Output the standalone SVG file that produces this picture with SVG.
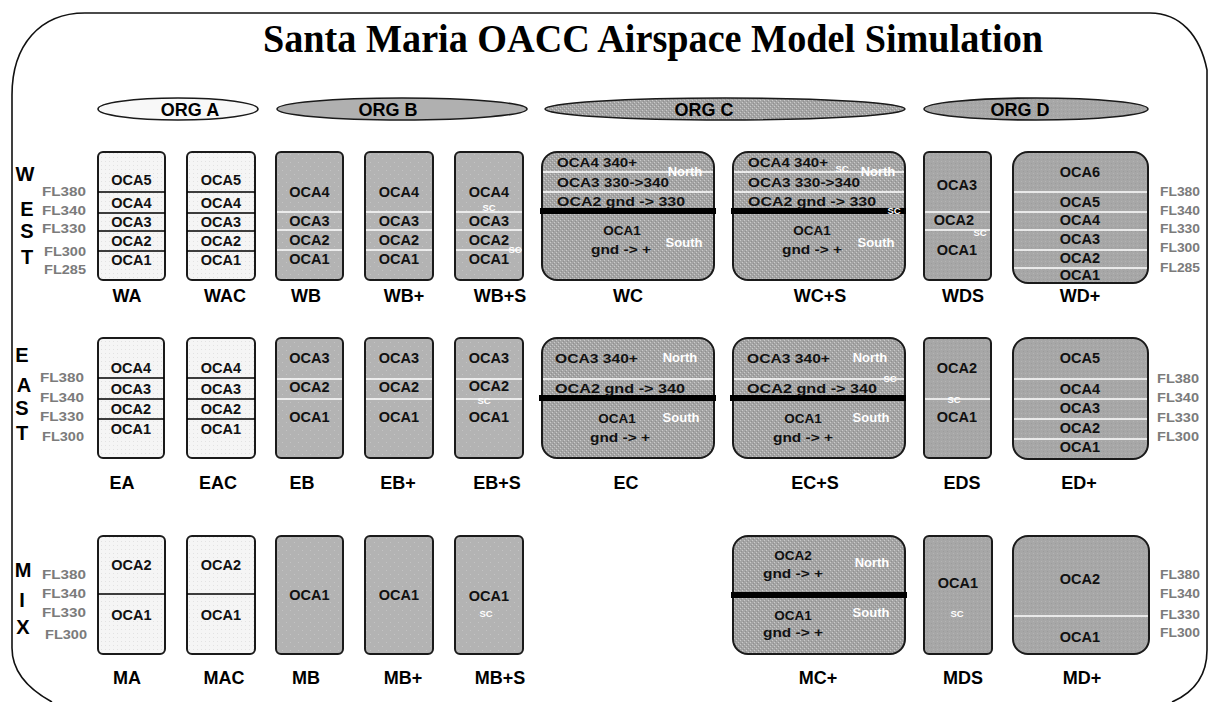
<svg xmlns="http://www.w3.org/2000/svg" width="1208" height="702" viewBox="0 0 1208 702">
<defs>
<pattern id="pA" width="4" height="4" patternUnits="userSpaceOnUse"><rect width="4" height="4" fill="#f5f5f5"/><rect x="1" y="1" width="1" height="1" fill="#e2e2e2"/></pattern>
<pattern id="pB" width="8" height="8" patternUnits="userSpaceOnUse"><rect width="8" height="8" fill="#b3b3b3"/><rect x="2" y="2" width="1" height="1" fill="#c4c4c4"/><rect x="6" y="6" width="1" height="1" fill="#c4c4c4"/></pattern>
<pattern id="pC" width="4" height="4" patternUnits="userSpaceOnUse"><rect width="4" height="4" fill="#a4a4a4"/><rect x="0" y="0" width="1" height="1" fill="#cacaca"/><rect x="2" y="2" width="1" height="1" fill="#cacaca"/><rect x="1" y="3" width="1" height="1" fill="#909090"/><rect x="3" y="1" width="1" height="1" fill="#909090"/></pattern>
<pattern id="pD" width="4" height="4" patternUnits="userSpaceOnUse"><rect width="4" height="4" fill="#a7a7a7"/><rect x="1" y="1" width="1" height="1" fill="#b4b4b4"/><rect x="3" y="3" width="1" height="1" fill="#9c9c9c"/></pattern>
</defs>
<style>
.bA{fill:url(#pA);stroke:#1a1a1a;stroke-width:2}
.bB{fill:url(#pB);stroke:#1a1a1a;stroke-width:2}
.bC{fill:url(#pC);stroke:#1a1a1a;stroke-width:2}
.bD{fill:url(#pD);stroke:#1a1a1a;stroke-width:2}
.bl{stroke:#000;stroke-width:1.3;fill:none}
.wl{stroke:#fff;stroke-width:1.6;fill:none}
.tk{stroke:#000;stroke-width:6;fill:none}
text{font-family:"Liberation Sans",Arial,sans-serif;font-weight:bold}
.o{font-size:14.5px;text-anchor:middle;fill:#111}
.ol{font-size:13px;fill:#111}
.oc{font-size:13.5px;text-anchor:middle;fill:#111}
.w{font-size:13px;text-anchor:middle;fill:#fff}
.s{font-size:9.5px;text-anchor:middle;fill:#fff}
.fl{font-size:12px;fill:#7b7b7b}
.lb{font-size:18px;text-anchor:middle;fill:#000}
.lt{font-size:20px;text-anchor:middle;fill:#000}
.org{font-size:18px;text-anchor:middle;fill:#000}
.el{stroke:#1a1a1a;stroke-width:1.6}
</style>
<rect width="1208" height="702" fill="#fff"/>
<path d="M52 702C30 690 12 672 12 648L12 95C12 45 40 13 85 13L1150 13C1180 13 1200 35 1207 70L1207 650C1207 675 1195 692 1172 702" fill="none" stroke="#111" stroke-width="1.6"/>
<text x="263" y="52" font-size="40" textLength="780" lengthAdjust="spacingAndGlyphs" style="font-family:'Liberation Serif','Times New Roman',serif;font-weight:bold">Santa Maria OACC Airspace Model Simulation</text>

<g id="orgA"><ellipse class="el" cx="178" cy="109" rx="80" ry="11" fill="#f8f8f8"/><text class="org" x="190" y="115.5">ORG A</text></g>
<g id="orgB"><ellipse class="el" cx="402" cy="109" rx="125" ry="11" fill="#b0b0b0"/><text class="org" x="388" y="115.5">ORG B</text></g>
<g id="orgC"><ellipse class="el" cx="725" cy="109" rx="180" ry="11" fill="url(#pC)"/><text class="org" x="704" y="115.5">ORG C</text></g>
<g id="orgD"><ellipse class="el" cx="1036" cy="109" rx="112" ry="11" fill="url(#pD)"/><text class="org" x="1020" y="115.5">ORG D</text></g>

<g id="west-legend">
<text class="lt" x="25" y="181">W</text><text class="lt" x="27" y="216">E</text><text class="lt" x="27" y="238">S</text><text class="lt" x="27" y="264">T</text>
<text class="fl" x="42" y="196" textLength="44" lengthAdjust="spacingAndGlyphs">FL380</text><text class="fl" x="42" y="215" textLength="44" lengthAdjust="spacingAndGlyphs">FL340</text><text class="fl" x="42" y="233" textLength="44" lengthAdjust="spacingAndGlyphs">FL330</text><text class="fl" x="44" y="256" textLength="42" lengthAdjust="spacingAndGlyphs">FL300</text><text class="fl" x="44" y="274" textLength="42" lengthAdjust="spacingAndGlyphs">FL285</text>
<text class="fl" x="1160" y="196" textLength="40" lengthAdjust="spacingAndGlyphs">FL380</text><text class="fl" x="1160" y="215" textLength="40" lengthAdjust="spacingAndGlyphs">FL340</text><text class="fl" x="1160" y="233" textLength="40" lengthAdjust="spacingAndGlyphs">FL330</text><text class="fl" x="1160" y="252" textLength="40" lengthAdjust="spacingAndGlyphs">FL300</text><text class="fl" x="1160" y="272" textLength="40" lengthAdjust="spacingAndGlyphs">FL285</text>
</g>

<g id="WA"><rect class="bA" x="98" y="152" width="67" height="128" rx="5"/><path class="bl" d="M98 192H165M98 213H165M98 231H165M98 251H165"/>
<text class="o" x="131.5" y="185">OCA5</text><text class="o" x="131.5" y="208">OCA4</text><text class="o" x="131.5" y="227">OCA3</text><text class="o" x="131.5" y="246">OCA2</text><text class="o" x="131.5" y="265">OCA1</text>
<text class="lb" x="127" y="301.5">WA</text></g>
<g id="WAC"><rect class="bA" x="187" y="152" width="68" height="128" rx="5"/><path class="bl" d="M187 192H255M187 213H255M187 231H255M187 251H255"/>
<text class="o" x="221" y="185">OCA5</text><text class="o" x="221" y="208">OCA4</text><text class="o" x="221" y="227">OCA3</text><text class="o" x="221" y="246">OCA2</text><text class="o" x="221" y="265">OCA1</text>
<text class="lb" x="225" y="301.5">WAC</text></g>
<g id="WB"><rect class="bB" x="276" y="152" width="67" height="128" rx="5"/><path class="wl" d="M277 212H342M277 230H342M277 250H342"/>
<text class="o" x="309.5" y="197">OCA4</text><text class="o" x="309.5" y="226">OCA3</text><text class="o" x="309.5" y="245">OCA2</text><text class="o" x="309.5" y="264">OCA1</text>
<text class="lb" x="306" y="301.5">WB</text></g>
<g id="WBp"><rect class="bB" x="365" y="152" width="68" height="128" rx="5"/><path class="wl" d="M366 212H432M366 230H432M366 250H432"/>
<text class="o" x="399" y="197">OCA4</text><text class="o" x="399" y="226">OCA3</text><text class="o" x="399" y="245">OCA2</text><text class="o" x="399" y="264">OCA1</text>
<text class="lb" x="404" y="301.5">WB+</text></g>
<g id="WBpS"><rect class="bB" x="455" y="152" width="68" height="128" rx="5"/><path class="wl" d="M456 212H522M456 230H522M456 250H522"/>
<text class="o" x="489" y="197">OCA4</text><text class="o" x="489" y="226">OCA3</text><text class="o" x="489" y="245">OCA2</text><text class="o" x="489" y="264">OCA1</text>
<text class="s" x="489" y="211">SC</text><text class="s" x="515" y="253">SC</text>
<text class="lb" x="500" y="301.5">WB+S</text></g>
<g id="WC"><rect class="bC" x="542" y="152" width="172" height="128" rx="15"/><path class="wl" d="M543 172H713M543 192H713"/><path class="tk" d="M540 211H716"/>
<text class="ol" x="557" y="167" textLength="80" lengthAdjust="spacingAndGlyphs">OCA4 340+</text><text class="ol" x="557" y="187" textLength="112" lengthAdjust="spacingAndGlyphs">OCA3 330-&gt;340</text><text class="ol" x="557" y="206" textLength="128" lengthAdjust="spacingAndGlyphs">OCA2  gnd -&gt; 330</text>
<text class="oc" x="622" y="235">OCA1</text><text class="oc" x="621" y="254" textLength="60" lengthAdjust="spacingAndGlyphs">gnd -&gt; +</text>
<text class="w" x="685" y="176">North</text><text class="w" x="684" y="247">South</text>
<text class="lb" x="628" y="301.5">WC</text></g>
<g id="WCpS"><rect class="bC" x="733" y="152" width="172" height="128" rx="15"/><path class="wl" d="M734 172H904M734 192H904"/><path class="tk" d="M731 211H906"/>
<text class="ol" x="748" y="167" textLength="80" lengthAdjust="spacingAndGlyphs">OCA4 340+</text><text class="ol" x="748" y="187" textLength="112" lengthAdjust="spacingAndGlyphs">OCA3 330-&gt;340</text><text class="ol" x="748" y="206" textLength="128" lengthAdjust="spacingAndGlyphs">OCA2  gnd -&gt; 330</text>
<text class="oc" x="812" y="235">OCA1</text><text class="oc" x="812" y="254" textLength="60" lengthAdjust="spacingAndGlyphs">gnd -&gt; +</text>
<text class="s" x="842" y="172">SC</text><text class="w" x="878" y="176">North</text><text class="s" x="894" y="214">SC</text><text class="w" x="876" y="247">South</text>
<text class="lb" x="820" y="301.5">WC+S</text></g>
<g id="WDS"><rect class="bD" x="924" y="152" width="67" height="128" rx="5"/><path class="wl" d="M925 212H990M925 230H990"/>
<text class="o" x="957" y="190">OCA3</text><text class="o" x="954" y="225">OCA2</text><text class="o" x="957" y="255">OCA1</text><text class="s" x="980" y="236">SC</text>
<text class="lb" x="963" y="301.5">WDS</text></g>
<g id="WDp"><rect class="bD" x="1013" y="152" width="135" height="131" rx="15"/><path class="wl" d="M1014 192H1147M1014 212H1147M1014 230H1147M1014 250H1147M1014 268H1147"/>
<text class="o" x="1080" y="177">OCA6</text><text class="o" x="1080" y="207">OCA5</text><text class="o" x="1080" y="225">OCA4</text><text class="o" x="1080" y="244">OCA3</text><text class="o" x="1080" y="263">OCA2</text><text class="o" x="1080" y="280">OCA1</text>
<text class="lb" x="1080" y="301.5">WD+</text></g>

<g id="east-legend">
<text class="lt" x="22" y="362">E</text><text class="lt" x="24" y="392">A</text><text class="lt" x="22" y="415">S</text><text class="lt" x="22" y="440">T</text>
<text class="fl" x="40" y="382" textLength="44" lengthAdjust="spacingAndGlyphs">FL380</text><text class="fl" x="40" y="402" textLength="44" lengthAdjust="spacingAndGlyphs">FL340</text><text class="fl" x="40" y="421" textLength="44" lengthAdjust="spacingAndGlyphs">FL330</text><text class="fl" x="42" y="441" textLength="42" lengthAdjust="spacingAndGlyphs">FL300</text>
<text class="fl" x="1157" y="383" textLength="42" lengthAdjust="spacingAndGlyphs">FL380</text><text class="fl" x="1157" y="402" textLength="42" lengthAdjust="spacingAndGlyphs">FL340</text><text class="fl" x="1157" y="422" textLength="42" lengthAdjust="spacingAndGlyphs">FL330</text><text class="fl" x="1157" y="441" textLength="42" lengthAdjust="spacingAndGlyphs">FL300</text>
</g>

<g id="EA"><rect class="bA" x="98" y="338" width="66" height="120" rx="5"/><path class="bl" d="M98 378H164M98 399H164M98 419H164"/>
<text class="o" x="131" y="373">OCA4</text><text class="o" x="131" y="394">OCA3</text><text class="o" x="131" y="414">OCA2</text><text class="o" x="131" y="434">OCA1</text>
<text class="lb" x="122" y="488.5">EA</text></g>
<g id="EAC"><rect class="bA" x="187" y="338" width="68" height="120" rx="5"/><path class="bl" d="M187 378H255M187 399H255M187 419H255"/>
<text class="o" x="221" y="373">OCA4</text><text class="o" x="221" y="394">OCA3</text><text class="o" x="221" y="414">OCA2</text><text class="o" x="221" y="434">OCA1</text>
<text class="lb" x="218" y="488.5">EAC</text></g>
<g id="EB"><rect class="bB" x="276" y="338" width="67" height="120" rx="5"/><path class="wl" d="M277 379H342M277 399H342"/>
<text class="o" x="309.5" y="363">OCA3</text><text class="o" x="309.5" y="392">OCA2</text><text class="o" x="309.5" y="422">OCA1</text>
<text class="lb" x="302" y="488.5">EB</text></g>
<g id="EBp"><rect class="bB" x="365" y="338" width="68" height="120" rx="5"/><path class="wl" d="M366 379H432M366 399H432"/>
<text class="o" x="399" y="363">OCA3</text><text class="o" x="399" y="392">OCA2</text><text class="o" x="399" y="422">OCA1</text>
<text class="lb" x="398" y="488.5">EB+</text></g>
<g id="EBpS"><rect class="bB" x="455" y="338" width="68" height="120" rx="5"/><path class="wl" d="M456 379H522M456 399H522"/>
<text class="o" x="489" y="363">OCA3</text><text class="o" x="489" y="391">OCA2</text><text class="o" x="489" y="422">OCA1</text><text class="s" x="484" y="404">SC</text>
<text class="lb" x="497" y="488.5">EB+S</text></g>
<g id="EC"><rect class="bC" x="542" y="338" width="172" height="120" rx="15"/><path class="wl" d="M543 379H713"/><path class="tk" d="M539 398H716"/>
<text class="ol" x="555" y="363" textLength="83" lengthAdjust="spacingAndGlyphs">OCA3 340+</text><text class="ol" x="555" y="393" textLength="130" lengthAdjust="spacingAndGlyphs">OCA2  gnd -&gt; 340</text>
<text class="w" x="680" y="362">North</text><text class="oc" x="617" y="423">OCA1</text><text class="w" x="681" y="422">South</text><text class="oc" x="620" y="442" textLength="60" lengthAdjust="spacingAndGlyphs">gnd -&gt; +</text>
<text class="lb" x="626" y="488.5">EC</text></g>
<g id="ECpS"><rect class="bC" x="733" y="338" width="172" height="120" rx="15"/><path class="wl" d="M734 379H904"/><path class="tk" d="M730 398H906"/>
<text class="ol" x="747" y="363" textLength="83" lengthAdjust="spacingAndGlyphs">OCA3 340+</text><text class="ol" x="747" y="393" textLength="130" lengthAdjust="spacingAndGlyphs">OCA2  gnd -&gt; 340</text>
<text class="w" x="870" y="362">North</text><text class="s" x="890" y="382">SC</text><text class="oc" x="803" y="423">OCA1</text><text class="w" x="871" y="422">South</text><text class="oc" x="803" y="442" textLength="60" lengthAdjust="spacingAndGlyphs">gnd -&gt; +</text>
<text class="lb" x="815" y="488.5">EC+S</text></g>
<g id="EDS"><rect class="bD" x="924" y="338" width="67" height="120" rx="5"/><path class="wl" d="M925 399H990"/>
<text class="o" x="957" y="373">OCA2</text><text class="s" x="954" y="403">SC</text><text class="o" x="957" y="422">OCA1</text>
<text class="lb" x="962" y="488.5">EDS</text></g>
<g id="EDp"><rect class="bD" x="1013" y="338" width="135" height="121" rx="15"/><path class="wl" d="M1014 379H1147M1014 399H1147M1014 419H1147M1014 439H1147"/>
<text class="o" x="1080" y="363">OCA5</text><text class="o" x="1080" y="394">OCA4</text><text class="o" x="1080" y="413">OCA3</text><text class="o" x="1080" y="433">OCA2</text><text class="o" x="1080" y="452">OCA1</text>
<text class="lb" x="1079" y="488.5">ED+</text></g>

<g id="mix-legend">
<text class="lt" x="23" y="577">M</text><text class="lt" x="22" y="607">I</text><text class="lt" x="23" y="634">X</text>
<text class="fl" x="42" y="579" textLength="44" lengthAdjust="spacingAndGlyphs">FL380</text><text class="fl" x="42" y="598" textLength="44" lengthAdjust="spacingAndGlyphs">FL340</text><text class="fl" x="42" y="617" textLength="44" lengthAdjust="spacingAndGlyphs">FL330</text><text class="fl" x="45" y="639" textLength="42" lengthAdjust="spacingAndGlyphs">FL300</text>
<text class="fl" x="1160" y="579" textLength="40" lengthAdjust="spacingAndGlyphs">FL380</text><text class="fl" x="1160" y="598" textLength="40" lengthAdjust="spacingAndGlyphs">FL340</text><text class="fl" x="1160" y="619" textLength="40" lengthAdjust="spacingAndGlyphs">FL330</text><text class="fl" x="1160" y="637" textLength="40" lengthAdjust="spacingAndGlyphs">FL300</text>
</g>

<g id="MA"><rect class="bA" x="98" y="536" width="67" height="118" rx="5"/><path class="bl" d="M98 594H165"/>
<text class="o" x="131.5" y="570">OCA2</text><text class="o" x="131.5" y="620">OCA1</text>
<text class="lb" x="127" y="683.5">MA</text></g>
<g id="MAC"><rect class="bA" x="187" y="536" width="68" height="118" rx="5"/><path class="bl" d="M187 594H255"/>
<text class="o" x="221" y="570">OCA2</text><text class="o" x="221" y="620">OCA1</text>
<text class="lb" x="224" y="683.5">MAC</text></g>
<g id="MB"><rect class="bB" x="276" y="536" width="67" height="118" rx="5"/>
<text class="o" x="309.5" y="600">OCA1</text><text class="lb" x="306" y="683.5">MB</text></g>
<g id="MBp"><rect class="bB" x="365" y="536" width="68" height="118" rx="5"/>
<text class="o" x="399" y="600">OCA1</text><text class="lb" x="403" y="683.5">MB+</text></g>
<g id="MBpS"><rect class="bB" x="455" y="536" width="68" height="118" rx="5"/>
<text class="o" x="489" y="601">OCA1</text><text class="s" x="486" y="617">SC</text><text class="lb" x="500" y="683.5">MB+S</text></g>
<g id="MCp"><rect class="bC" x="733" y="536" width="172" height="118" rx="15"/><path class="tk" d="M731 595H907"/>
<text class="oc" x="793" y="560">OCA2</text><text class="oc" x="793" y="578" textLength="60" lengthAdjust="spacingAndGlyphs">gnd -&gt; +</text><text class="w" x="872" y="567">North</text>
<text class="oc" x="793" y="620">OCA1</text><text class="oc" x="793" y="637" textLength="60" lengthAdjust="spacingAndGlyphs">gnd -&gt; +</text><text class="w" x="871" y="617">South</text>
<text class="lb" x="818" y="683.5">MC+</text></g>
<g id="MDS"><rect class="bD" x="924" y="536" width="68" height="118" rx="5"/>
<text class="o" x="958" y="588">OCA1</text><text class="s" x="957" y="617">SC</text><text class="lb" x="963" y="683.5">MDS</text></g>
<g id="MDp"><rect class="bD" x="1013" y="536" width="136" height="118" rx="15"/><path class="wl" d="M1014 616H1148"/>
<text class="o" x="1080" y="584">OCA2</text><text class="o" x="1080" y="642">OCA1</text><text class="lb" x="1082" y="683.5">MD+</text></g>

<g id="connectors"/>
</svg>
